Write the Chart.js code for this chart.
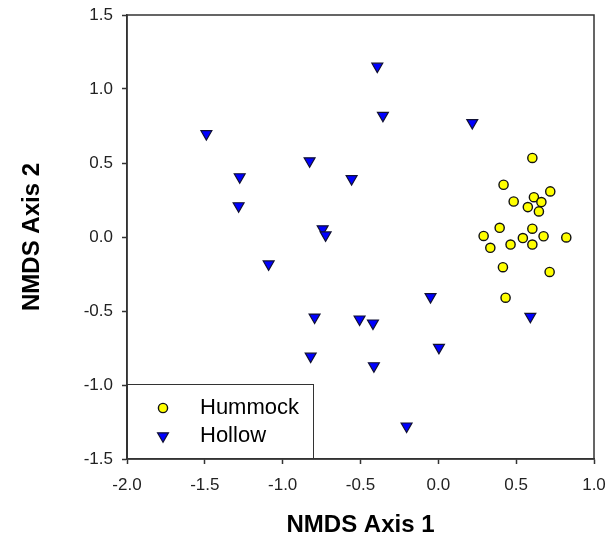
<!DOCTYPE html>
<html>
<head>
<meta charset="utf-8">
<script src="https://cdn.jsdelivr.net/npm/chart.js@4/dist/chart.umd.min.js"></script>
<style>
  html, body { margin: 0; padding: 0; background: #fff; }
</style>
</head>
<body>
<canvas id="nmdsChart" width="613" height="541"></canvas>
<script>
// NMDS scores
const hummockX = [0.604, 0.419, 0.719, 0.614, 0.662, 0.484, 0.575, 0.646, 0.394, 0.604,
                  0.291, 0.543, 0.676, 0.822, 0.334, 0.464, 0.604, 0.415, 0.715, 0.432];
const hummockY = [0.534, 0.353, 0.308, 0.269, 0.236, 0.240, 0.202, 0.173, 0.062, 0.056,
                  0.007, -0.007, 0.005, -0.003, -0.073, -0.051, -0.051, -0.204, -0.236, -0.410];

const hollowX = [-0.392, -0.356, -1.490, 0.218, -1.276, -0.827, -0.557, -1.283, -0.743, -0.724,
                 -1.090, -0.795, -0.506, -0.420, -0.050, 0.591, -0.820, 0.004, -0.414, -0.204];
const hollowY = [1.153, 0.821, 0.697, 0.772, 0.406, 0.514, 0.393, 0.210, 0.054, 0.013,
                 -0.183, -0.542, -0.555, -0.582, -0.404, -0.537, -0.806, -0.747, -0.871, -1.278];

const xTicks = [-2.0, -1.5, -1.0, -0.5, 0.0, 0.5, 1.0];
const yTicks = [-1.5, -1.0, -0.5, 0.0, 0.5, 1.0, 1.5];

const FONT = '"Liberation Sans", Arial, Helvetica, sans-serif';
const AXIS_COLOR = '#333333';

function toPoints(xs, ys) {
    return xs.map((x, i) => ({ x: x, y: ys[i] }));
}

// Full frame round the plot area (top and right sides too)
const framePlugin = {
    id: 'frame',
    afterDatasetsDraw(chart) {
        const { ctx, chartArea: a } = chart;
        ctx.save();
        ctx.strokeStyle = AXIS_COLOR;
        ctx.lineWidth = 1.5;
        ctx.strokeRect(a.left, a.top, a.right - a.left, a.bottom - a.top);
        ctx.restore();
    }
};

// Boxed legend sitting in the lower left corner of the plot area
const insideLegend = {
    id: 'insideLegend',
    afterDraw(chart) {
        const { ctx, chartArea: a } = chart;
        const boxW = 187, boxH = 75;
        const left = a.left, top = a.bottom - boxH;
        ctx.save();
        ctx.fillStyle = '#ffffff';
        ctx.fillRect(left, top, boxW, boxH);
        ctx.strokeStyle = AXIS_COLOR;
        ctx.lineWidth = 1;
        ctx.strokeRect(left + 0.5, top + 0.5, boxW - 1, boxH - 1);

        ctx.font = '22px ' + FONT;
        ctx.textBaseline = 'middle';
        ctx.textAlign = 'left';
        chart.data.datasets.forEach((ds, i) => {
            const cy = top + 24 + i * 28;
            const cx = left + 36;
            ctx.fillStyle = ds.backgroundColor;
            ctx.strokeStyle = ds.borderColor;
            ctx.lineWidth = ds.borderWidth;
            Chart.helpers.drawPoint(ctx, {
                pointStyle: ds.pointStyle,
                rotation: ds.rotation || 0,
                radius: ds.pointRadius,
                borderWidth: ds.borderWidth
            }, cx, cy);
            ctx.fillStyle = '#000000';
            ctx.fillText(ds.label, left + 73, cy);
        });
        ctx.restore();
    }
};

const ctx = document.getElementById('nmdsChart').getContext('2d');

new Chart(ctx, {
    type: 'scatter',
    data: {
        datasets: [
            {
                label: 'Hummock',
                data: toPoints(hummockX, hummockY),
                pointStyle: 'circle',
                pointRadius: 4.6,
                backgroundColor: '#ffff00',
                borderColor: '#111111',
                borderWidth: 1.4
            },
            {
                label: 'Hollow',
                data: toPoints(hollowX, hollowY),
                pointStyle: 'triangle',
                rotation: 180,
                pointRadius: 6.3,
                backgroundColor: '#0000ff',
                borderColor: '#111133',
                borderWidth: 1.2
            }
        ]
    },
    options: {
        responsive: false,
        animation: false,
        layout: { padding: { top: 15, right: 19, left: 0, bottom: 0 } },
        plugins: {
            legend: { display: false },
            tooltip: { enabled: false }
        },
        scales: {
            x: {
                type: 'linear',
                min: -2.0,
                max: 1.0,
                afterFit: (scale) => {
                    scale.height = 82;
                    // keep the plot edges where the layout padding puts them
                    scale.paddingLeft = 0;
                    scale.paddingRight = 0;
                },
                afterBuildTicks: (scale) => { scale.ticks = xTicks.map(v => ({ value: v })); },
                ticks: {
                    color: '#222222',
                    font: { family: FONT, size: 17 },
                    padding: 11,
                    maxRotation: 0,
                    callback: (v) => Number(v).toFixed(1)
                },
                grid: {
                    drawOnChartArea: false,
                    drawTicks: true,
                    tickLength: 5,
                    tickWidth: 1.5,
                    tickColor: AXIS_COLOR
                },
                border: { display: true, color: AXIS_COLOR, width: 1.5 },
                title: {
                    display: true,
                    text: 'NMDS Axis 1',
                    color: '#000000',
                    font: { family: FONT, size: 24, weight: 'bold' },
                    padding: { top: 0, bottom: 1 }
                }
            },
            y: {
                type: 'linear',
                min: -1.5,
                max: 1.5,
                afterFit: (scale) => {
                    scale.width = 127;
                    scale.paddingTop = 0;
                    scale.paddingBottom = 0;
                },
                afterBuildTicks: (scale) => { scale.ticks = yTicks.map(v => ({ value: v })); },
                ticks: {
                    color: '#222222',
                    font: { family: FONT, size: 17 },
                    padding: 9,
                    callback: (v) => Number(v).toFixed(1)
                },
                grid: {
                    drawOnChartArea: false,
                    drawTicks: true,
                    tickLength: 5,
                    tickWidth: 1.5,
                    tickColor: AXIS_COLOR
                },
                border: { display: true, color: AXIS_COLOR, width: 1.5 },
                title: {
                    display: true,
                    text: 'NMDS Axis 2',
                    color: '#000000',
                    font: { family: FONT, size: 24, weight: 'bold' },
                    padding: { top: 18, bottom: 0 }
                }
            }
        }
    },
    plugins: [framePlugin, insideLegend]
});
</script>
</body>
</html>
